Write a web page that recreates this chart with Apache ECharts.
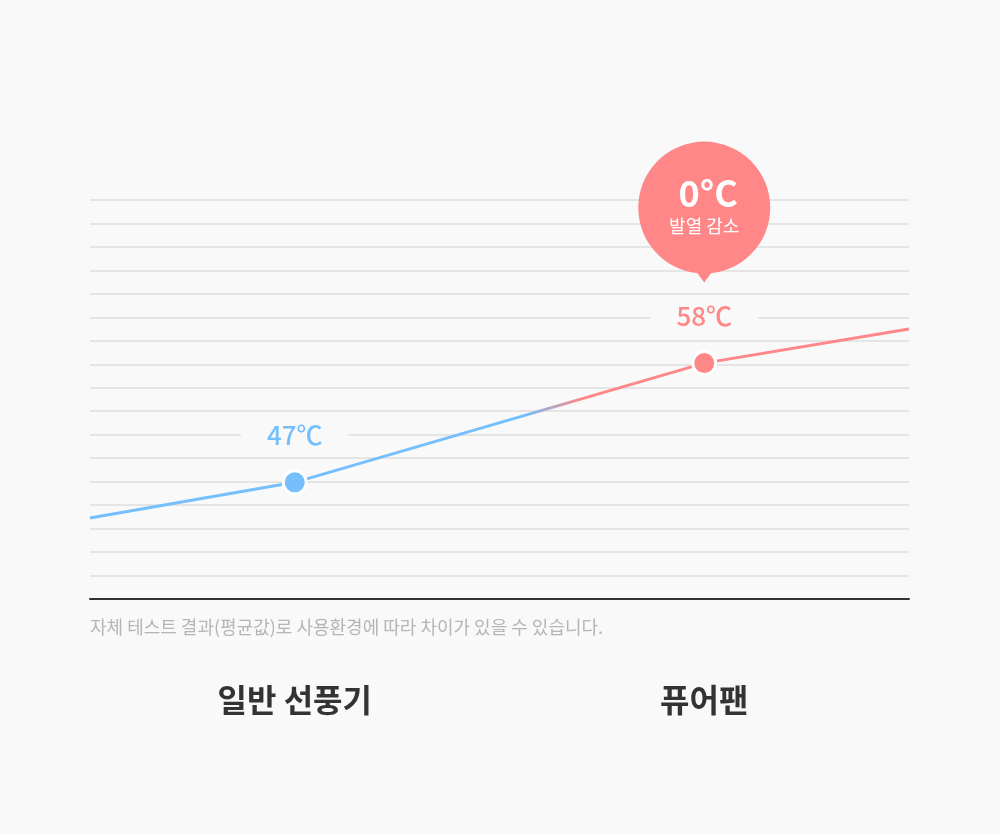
<!DOCTYPE html>
<html>
<head>
<meta charset="utf-8">
<script src="https://cdn.jsdelivr.net/npm/echarts@6/dist/echarts.min.js"></script>
<style>
  html, body { margin: 0; padding: 0; background: #f9f9f9; }
  #main { width: 1000px; height: 834px; }
</style>
</head>
<body>
<div id="main"></div>
<script>
// 데이터
var categories = ['', '일반 선풍기', '', '퓨어팬', ''];
var values = [3.45, 4.97, null, 10.05, 11.5];
var pointLabels = ['', '47℃', '', '58℃', ''];
var bubbleIndex = 3;
var bubbleTitle = '0°C';
var bubbleText = '발열 감소';
var noteText = '자체 테스트 결과(평균값)로 사용환경에 따라 차이가 있을 수 있습니다.';
var yMax = 17;

var BLUE = '#74bffc';
var PINK = '#ff8787';
var FONT = '"Noto Sans CJK KR", "Noto Sans", sans-serif';

var myChart = echarts.init(document.getElementById('main'));

var seriesData = values.map(function (v, i) {
    if (v === null) return '-';
    var c = i < 2 ? BLUE : PINK;
    var hasLabel = !!pointLabels[i];
    return {
        value: v,
        symbol: hasLabel ? 'circle' : 'none',
        itemStyle: { color: c, borderColor: '#fff', borderWidth: 3 },
        label: {
            show: hasLabel,
            formatter: pointLabels[i],
            color: c
        }
    };
});

var option = {
    backgroundColor: '#f9f9f9',
    animation: false,
    title: {
        text: noteText,
        left: 85,
        top: 613,
        textStyle: { fontFamily: FONT, fontSize: 18, fontWeight: 'normal', color: '#b5b5b5' }
    },
    grid: { left: 90, right: 91, top: 200, bottom: 235 },
    xAxis: {
        type: 'category',
        data: categories,
        boundaryGap: false,
        axisLine: { lineStyle: { color: '#333', width: 2 } },
        axisTick: { show: false },
        splitLine: { show: false },
        axisLabel: {
            interval: 0,
            margin: 85,
            fontFamily: FONT,
            fontSize: 32,
            fontWeight: 'bold',
            color: '#333'
        }
    },
    yAxis: {
        type: 'value',
        min: 0,
        max: yMax,
        interval: 1,
        axisLine: { show: false },
        axisTick: { show: false },
        axisLabel: { show: false },
        splitLine: { lineStyle: { color: '#e5e5e5', width: 2 } }
    },
    series: [{
        type: 'line',
        data: seriesData,
        connectNulls: true,
        symbolSize: 23,
        lineStyle: {
            width: 3,
            color: new echarts.graphic.LinearGradient(0, 0, 1, 0, [
                { offset: 0, color: BLUE },
                { offset: 0.53, color: BLUE },
                { offset: 0.6, color: PINK },
                { offset: 1, color: PINK }
            ])
        },
        label: {
            position: 'top',
            distance: 15,
            fontFamily: FONT,
            fontSize: 26,
            fontWeight: 500,
            lineHeight: 30,
            backgroundColor: '#f9f9f9',
            padding: [4, 26]
        },
        emphasis: { disabled: true },
        markPoint: {
            symbol: 'path://M0,66A66,66,0,1,1,132,66A66,66,0,1,1,0,66Z M55,126L77,126L66,141Z',
            symbolSize: [132, 141],
            symbolKeepAspect: false,
            symbolOffset: [0, -151],
            itemStyle: { color: PINK },
            label: {
                show: true,
                position: 'inside',
                offset: [4, -6],
                formatter: '{a|' + bubbleTitle + '}\n{b|' + bubbleText + '}',
                rich: {
                    a: { fontFamily: FONT, fontSize: 36, fontWeight: 'bold', color: '#fff', lineHeight: 40, align: 'center' },
                    b: { fontFamily: FONT, fontSize: 18, color: '#fff', lineHeight: 26, align: 'center', padding: [0, 8, 0, 0] }
                }
            },
            data: [{ coord: [bubbleIndex, values[bubbleIndex]] }]
        }
    }]
};

myChart.setOption(option);
</script>
</body>
</html>
